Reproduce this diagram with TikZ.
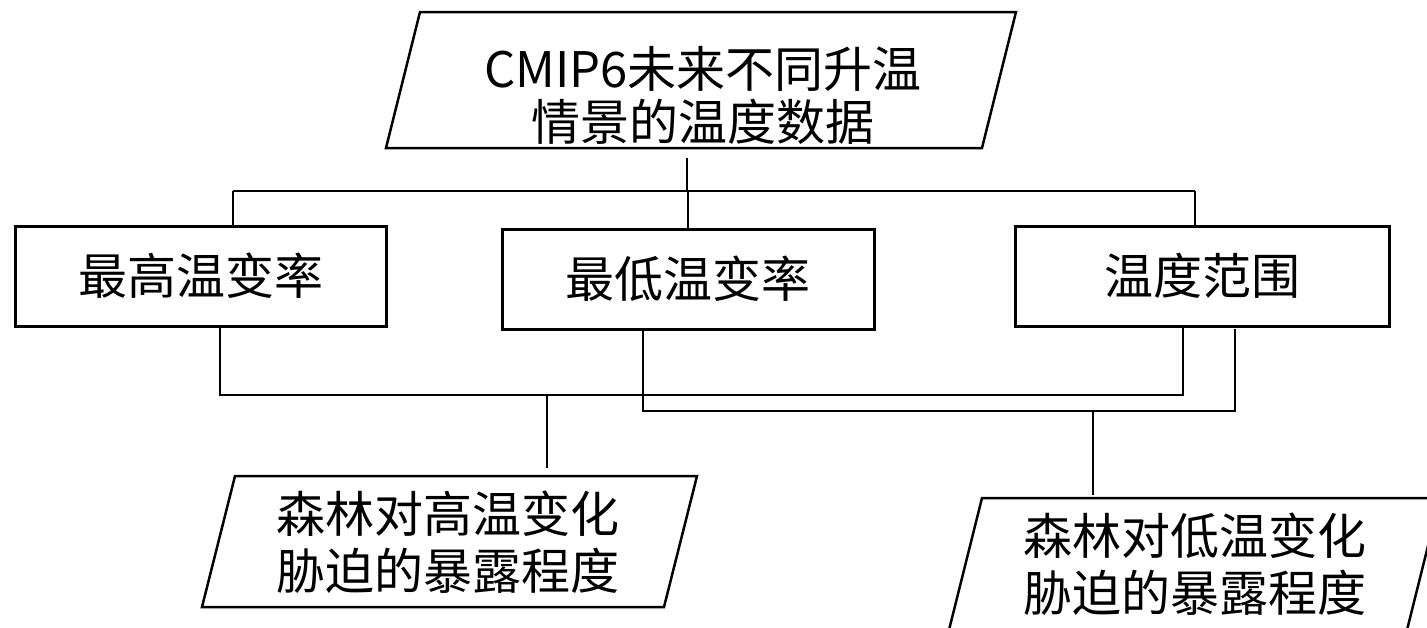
\documentclass[tikz,border=0pt]{standalone}
\usepackage{fontspec}
\newfontfamily\cjk{Noto Sans CJK SC}
\begin{document}
\begin{tikzpicture}[x=1pt,y=-1pt,
  box/.style={draw=black,line width=3pt,minimum width=371pt,minimum height=100pt,inner sep=0pt,font=\cjk\fontsize{49}{54}\selectfont},
  para/.style={draw=black,line width=2.5pt},
  txt/.style={align=center,inner sep=0pt,font=\cjk\fontsize{49}{57}\selectfont},
  conn/.style={draw=black,line width=1.4pt}]
\useasboundingbox (0,0) rectangle (1427,627);
\clip (0,0) rectangle (1427,627);
% top parallelogram
\draw[para] (420,12) -- (1016,12) -- (982,148) -- (386,148) -- cycle;
\node[txt,font=\cjk\fontsize{49}{53}\selectfont] (tp) at (703,95) {CMIP6未来不同升温\\情景的温度数据};
% boxes
\node[box,minimum width=371pt] (b1) at (200.5,276) {最高温变率};
\node[box,minimum width=372pt] (b2) at (688,279) {最低温变率};
\node[box,minimum width=374pt] (b3) at (1202,276) {温度范围};
% bottom-left parallelogram
\draw[para] (235,476) -- (697,476) -- (664,607) -- (202,607) -- cycle;
\node[txt] (bl) at (448,542) {森林对高温变化\\胁迫的暴露程度};
% bottom-right parallelogram
\draw[para] (982,498) -- (1440,498) -- (1407,630) -- (949,630) -- cycle;
\node[txt] (br) at (1195,564) {森林对低温变化\\胁迫的暴露程度};
% top connectors
\coordinate (t0) at (687,158);
\coordinate (t1) at (687,191);
\coordinate (h1) at (233,191);
\coordinate (h2) at (688,191);
\coordinate (h3) at (1195,191);
\draw[conn] (t0) -- (t1);
\draw[conn] (h1) -- (h3);
\draw[conn] (h1) -- (b1.north -| h1);
\draw[conn] (h2) -- (b2.north -| h2);
\draw[conn] (h3) -- (b3.north -| h3);
% lower connectors
\coordinate (a1) at (220,395);
\coordinate (a2) at (1183,395);
\coordinate (ja) at (547,395);
\coordinate (jae) at (547,468);
\draw[conn] (b1.south -| a1) -- (a1) -- (a2) -- (b3.south -| a2);
\draw[conn] (ja) -- (jae);
\coordinate (c1) at (643,411);
\coordinate (c2) at (1235,411);
\coordinate (c3) at (1235,329);
\coordinate (jb) at (1093,411);
\coordinate (jbe) at (1093,495);
\draw[conn] (b2.south -| c1) -- (c1) -- (c2) -- (c3);
\draw[conn] (jb) -- (jbe);
\end{tikzpicture}
\end{document}
